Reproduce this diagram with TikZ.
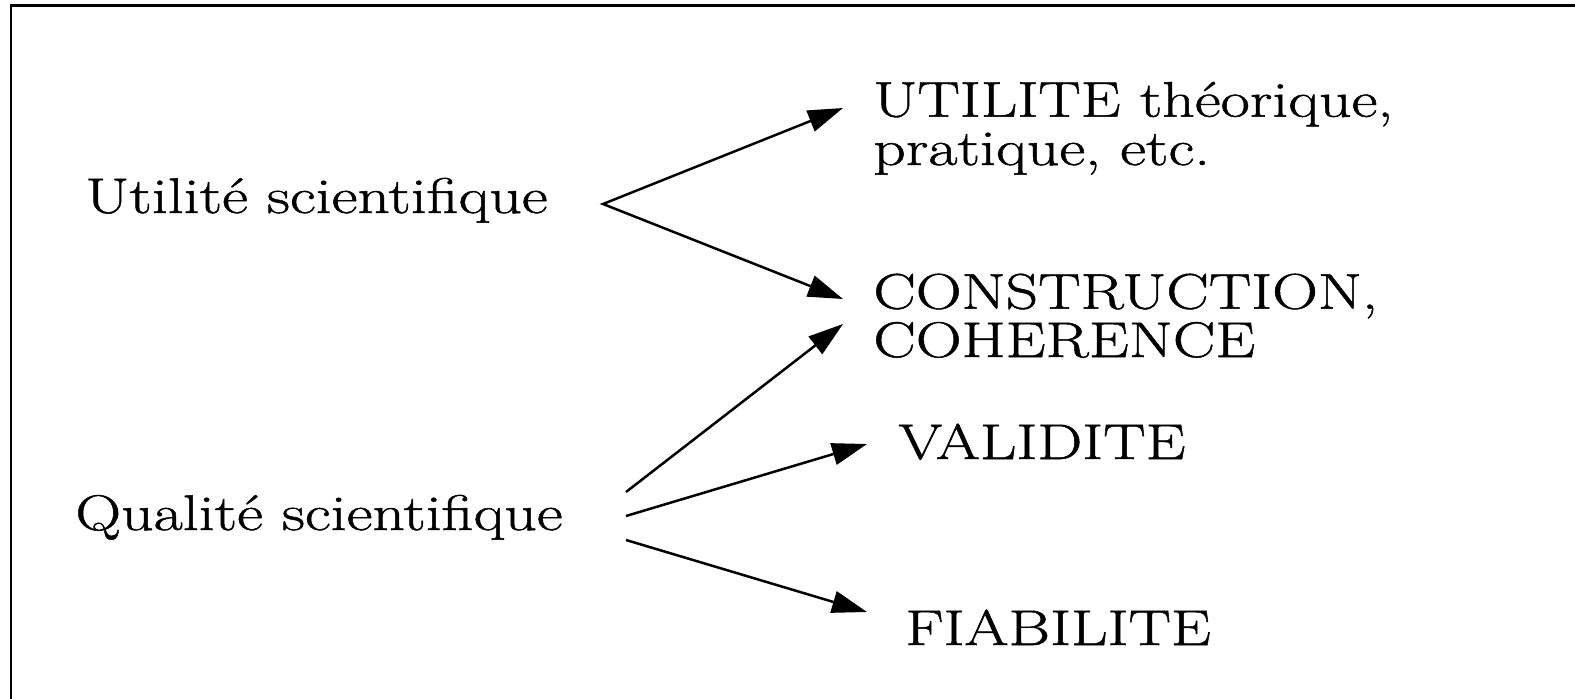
\documentclass[tikz,border=0pt]{standalone}
\usepackage{fontspec}
\setmainfont{Latin Modern Roman}[FakeStretch=1.27,FakeBold=1.0]
\usetikzlibrary{arrows.meta}
\tikzset{headtip/.tip={Triangle[length=0.7cm,width=0.44cm]}}
\begin{document}
\begin{tikzpicture}[x=0.02cm,y=-0.02cm,
  lbl/.style={inner sep=0pt, anchor=base west, align=left,
              font=\fontsize{28.5pt}{27.5pt}\selectfont},
  link/.style={line width=0.05cm, -{headtip}},
  fork/.style={line width=0.05cm, {headtip}-{headtip}, line join=miter}]
\useasboundingbox (0,0) rectangle (1575,699);
% frame
\draw[line width=0.06cm] (11,699) -- (11,6) -- (1575,6);

% labels (two-line labels are placed by the baseline of their last line)
\node[lbl] (us) at (85,213) {Utilité scientifique};
\node[lbl] (qs) at (75,530) {Qualité scientifique};
\node[lbl] (ut) at (873,165) {UTILITE théorique,\\pratique, etc.};
\node[lbl] (cc) at (873,357) {CONSTRUCTION,\\COHERENCE};
\node[lbl] (va) at (898,459) {VALIDITE};
\node[lbl] (fi) at (905,645) {FIABILITE};

% arrow ends
\coordinate (us-out) at (603,204);
\coordinate (ut-in) at (843,108);
\coordinate (cc-in1) at (843,299);
\coordinate (cc-in2) at (843,324);
\coordinate (qs-out1) at (626,492);
\coordinate (qs-out2) at (626,516);
\coordinate (qs-out3) at (626,540);
\coordinate (va-in) at (867,444);
\coordinate (fi-in) at (867,612);

% connectors
\draw[fork] (ut-in) -- (us-out) -- (cc-in1);
\draw[link] (qs-out1) -- (cc-in2);
\draw[link] (qs-out2) -- (va-in);
\draw[link] (qs-out3) -- (fi-in);
\end{tikzpicture}
\end{document}
